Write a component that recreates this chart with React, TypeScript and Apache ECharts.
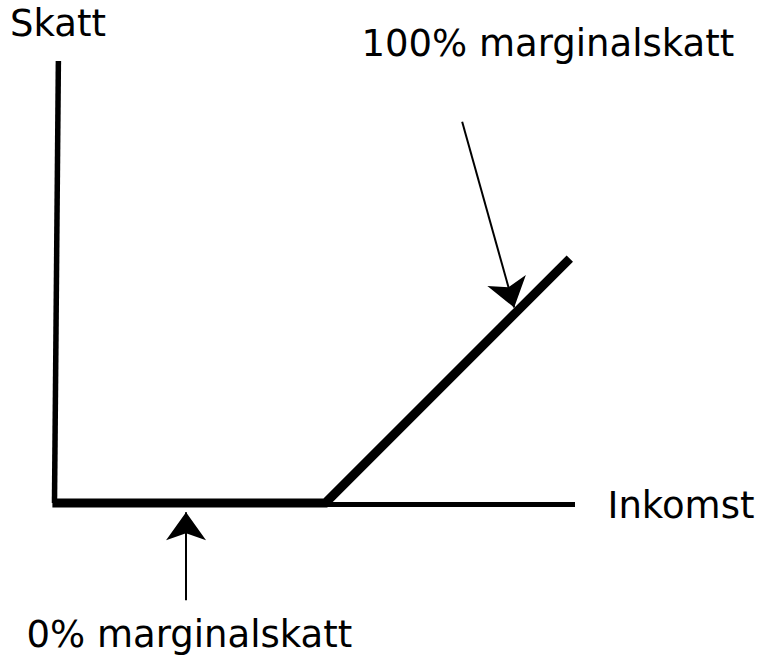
import React, { useEffect, useRef } from "react";
import * as echarts from "echarts";

// Tax curve (income, tax) in chart units: 0% marginal tax, then 100% marginal tax
const taxCurveIncome = [-0.5, 52, 99];
const taxCurveTax = [0, 0, 47];

// Hand-drawn axes
const incomeAxisIncome = [0, 100];
const incomeAxisTax = [-0.3, -0.3];
const taxAxisIncome = [-0.1, 0.65];
const taxAxisTax = [0, 85];

// Annotation arrows [income, tax] (end = arrow tip)
const arrow100From = [78.3, 73.3];
const arrow100To = [88.3, 37.6];
const arrow0From = [25.2, -18.7];
const arrow0To = [25.2, -1.8];

// Texts
const yAxisTitle = "Skatt";
const xAxisTitle = "Inkomst";
const label100 = "100% marginalskatt";
const label0 = "0% marginalskatt";

const FONT = "'DejaVu Sans', sans-serif";

export default function App() {
  const ref = useRef<HTMLDivElement>(null);

  useEffect(() => {
    if (!ref.current) return;
    const chart = echarts.init(ref.current, null, { renderer: "svg" });

    const zip = (a: number[], b: number[]) => a.map((v, i) => [v, b[i]]);

    const arrowStyle = { color: "#000", width: 2, type: "solid" as const };

    const textEl = (text: string, x: number, y: number) => ({
      type: "text",
      x,
      y,
      silent: true,
      style: {
        text,
        fill: "#000",
        font: `37px ${FONT}`,
        fontFamily: "DejaVu Sans",
        fontSize: 37,
        align: "left",
        verticalAlign: "middle",
      },
    });

    chart.setOption({
      animation: false,
      backgroundColor: "#fff",
      grid: { left: 29, top: 61, width: 546, height: 546 },
      xAxis: { type: "value", min: -5, max: 100, show: false },
      yAxis: { type: "value", min: -20, max: 85, show: false },
      series: [
        {
          type: "line",
          data: zip(taxAxisIncome, taxAxisTax),
          symbol: "none",
          clip: false,
          silent: true,
          lineStyle: { color: "#000", width: 5.5, cap: "butt" },
        },
        {
          type: "line",
          data: zip(incomeAxisIncome, incomeAxisTax),
          symbol: "none",
          clip: false,
          silent: true,
          lineStyle: { color: "#000", width: 5, cap: "butt" },
        },
        {
          type: "line",
          data: zip(taxCurveIncome, taxCurveTax),
          symbol: "none",
          clip: false,
          silent: true,
          lineStyle: { color: "#000", width: 9, join: "miter", cap: "butt" },
          markLine: {
            silent: true,
            animation: false,
            symbol: ["none", "arrow"],
            symbolSize: [30, 28],
            label: { show: false },
            lineStyle: arrowStyle,
            emphasis: { disabled: true },
            data: [
              [{ coord: arrow100From }, { coord: arrow100To }],
              [{ coord: arrow0From }, { coord: arrow0To }],
            ],
          },
        },
      ],
      graphic: [
        textEl(yAxisTitle, 10, 23),
        textEl(label100, 361.5, 43),
        textEl(xAxisTitle, 607.5, 505),
        textEl(label0, 26.5, 634),
      ],
    });

    return () => chart.dispose();
  }, []);

  return (
    <div
      ref={ref}
      style={{ position: "absolute", left: 0, top: 0, width: 761, height: 655 }}
    />
  );
}
